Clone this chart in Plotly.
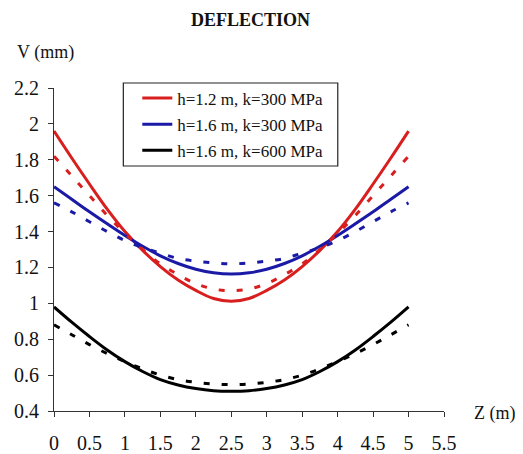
import plotly.graph_objects as go

z = [0, 0.25, 0.5, 0.75, 1, 1.25, 1.5, 1.75, 2, 2.25, 2.5,
     2.75, 3, 3.25, 3.5, 3.75, 4, 4.25, 4.5, 4.75, 5]

def mirror(half):
    return half + half[-2::-1]

red_solid = mirror([1.96, 1.81, 1.665, 1.525, 1.40, 1.295, 1.205, 1.13, 1.072, 1.027, 1.012])
red_dash = mirror([1.82, 1.71, 1.60, 1.49, 1.39, 1.30, 1.22, 1.16, 1.11, 1.08, 1.07])
blue_solid = mirror([1.65, 1.58, 1.51, 1.443, 1.378, 1.318, 1.265, 1.222, 1.19, 1.17, 1.163])
blue_dash = mirror([1.56, 1.51, 1.455, 1.40, 1.35, 1.31, 1.28, 1.25, 1.235, 1.225, 1.22])
black_solid = mirror([0.98, 0.895, 0.815, 0.74, 0.675, 0.62, 0.575, 0.545, 0.525, 0.513, 0.51])
black_dash = mirror([0.88, 0.825, 0.77, 0.72, 0.675, 0.635, 0.60, 0.575, 0.56, 0.55, 0.547])

names = ["h=1.2 m, k=300 MPa", "h=1.6 m, k=300 MPa", "h=1.6 m, k=600 MPa"]
colors = ["#d81e1e", "#1a1aa6", "#000000"]
solids = [red_solid, blue_solid, black_solid]
dashes = [red_dash, blue_dash, black_dash]

x_ticks = [0, 0.5, 1, 1.5, 2, 2.5, 3, 3.5, 4, 4.5, 5, 5.5]
y_ticks = [0.4, 0.6, 0.8, 1, 1.2, 1.4, 1.6, 1.8, 2, 2.2]

FONT = "Liberation Serif"
TXT = "#111111"

# page body has an 8px margin: figure origin is at page (8, 8)
OFF = 8
W, H = 523 - OFF, 454 - OFF
L, T = 53.5 - OFF, 88 - OFF
PW, PH = 391, 323
R = W - L - PW
B = H - T - PH

def px(xp):  # page x -> paper x
    return (xp - OFF - L) / PW

def py(yp):  # page y -> paper y
    return (T + PH - (yp - OFF)) / PH

fig = go.Figure()
for i, (name, col, s) in enumerate(zip(names, colors, solids)):
    fig.add_trace(go.Scatter(x=z, y=s, mode="lines", name=name, legendgroup=f"g{i}",
                             line=dict(color=col, width=3, shape="spline")))
for i, (col, d) in enumerate(zip(colors, dashes)):
    fig.add_trace(go.Scatter(x=z, y=d, mode="lines", showlegend=False, legendgroup=f"g{i}",
                             line=dict(color=col, width=3, dash="6px,12px", shape="spline")))

fig.update_layout(
    template="none",
    width=W, height=H,
    margin=dict(l=L, r=R, t=T, b=B, pad=0, autoexpand=False),
    paper_bgcolor="white", plot_bgcolor="white",
    font=dict(family=FONT, size=20, color=TXT),
    showlegend=True,
    legend=dict(x=px(137), y=py(80.5), xanchor="left", yanchor="top",
                borderwidth=0, bgcolor="rgba(0,0,0,0)",
                font=dict(family=FONT, size=17, color=TXT),
                tracegroupgap=1, itemwidth=30),
    xaxis=dict(range=[0, 5.5], tickvals=x_ticks, showgrid=False, zeroline=False,
               automargin=False,
               showline=True, linecolor="#333", linewidth=1,
               ticks="outside", ticklen=5, tickcolor="#333",
               ticklabelstandoff=9, tickfont=dict(size=20)),
    yaxis=dict(range=[0.4, 2.2], tickvals=y_ticks, showgrid=False, zeroline=False,
               automargin=False,
               showline=True, linecolor="#333", linewidth=1,
               ticks="outside", ticklen=5, tickcolor="#333",
               ticklabelstandoff=5, tickfont=dict(size=20)),
    shapes=[dict(type="rect", xref="paper", yref="paper",
                 x0=px(123), x1=px(338), y0=py(166), y1=py(83),
                 line=dict(color="#222", width=1.2), fillcolor="rgba(0,0,0,0)",
                 layer="above")],
    annotations=[
        dict(text="<b>DEFLECTION</b>", xref="paper", yref="paper",
             x=px(251), y=py(19.5), xanchor="center", yanchor="middle", showarrow=False,
             font=dict(family=FONT, size=18, color=TXT)),
        dict(text="V (mm)", xref="paper", yref="paper", x=px(14), y=py(52),
             xanchor="left", yanchor="middle", showarrow=False,
             font=dict(family=FONT, size=18, color=TXT)),
        dict(text="Z (m)", xref="paper", yref="paper", x=px(473), y=py(413),
             xanchor="left", yanchor="middle", showarrow=False,
             font=dict(family=FONT, size=18, color=TXT)),
    ],
)

fig.write_html("out.html")
